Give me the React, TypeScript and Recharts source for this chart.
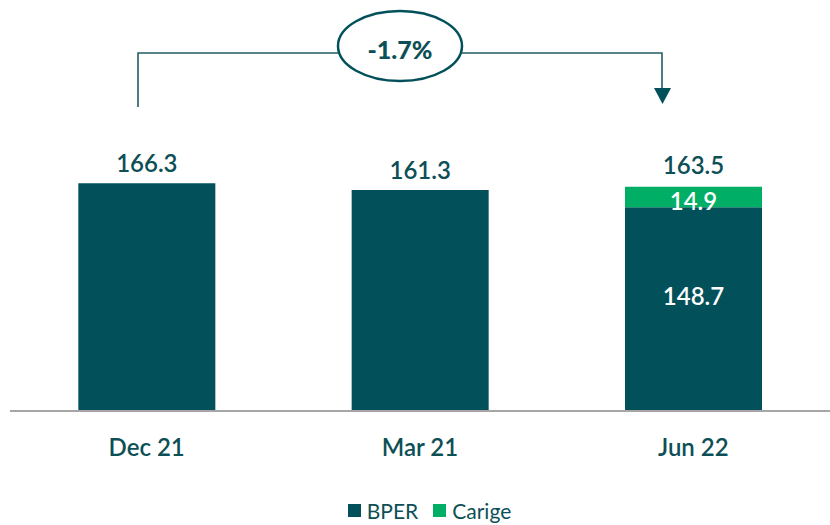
import React from 'react';
import { BarChart, Bar, XAxis, YAxis, Legend, LabelList } from 'recharts';

const categories = ['Dec 21', 'Mar 21', 'Jun 22'];
const bperValues = [166.3, 161.3, 148.7];
const carigeValues = [null, null, 14.9];
const totalLabels = ['166.3', '161.3', '163.5'];
const changeLabel = '-1.7%';

const TEAL = '#02505A';
const GREEN = '#00AE65';
const TEXT = '#0D4F56';
const FONT = 'Lato, "Open Sans", sans-serif';

const data = categories.map((name, i) => ({
  name,
  bper: bperValues[i],
  carige: carigeValues[i],
  total: totalLabels[i],
}));

const W = 830;
const H = 525;

function AxisTick(props: any) {
  const { x, y, payload } = props;
  return (
    <text x={x} y={y + 37} textAnchor="middle" fill={TEXT} fontSize={24} fontWeight={600} fontFamily={FONT}>
      {payload.value}
    </text>
  );
}

// BPER label: above the bar when it stands alone, inside (white) when Carige sits on top
function BperLabel(props: any) {
  const { x, y, width, height, index, value } = props;
  const stacked = data[index] && data[index].carige != null;
  if (stacked) {
    return (
      <text x={x + width / 2} y={y + height * 0.48} textAnchor="middle" fill="#fff" fontSize={24} fontWeight={600} fontFamily={FONT}>
        {Number(value).toFixed(1)}
      </text>
    );
  }
  return (
    <text x={x + width / 2} y={y - 11} textAnchor="middle" fill={TEXT} fontSize={24} fontWeight={600} fontFamily={FONT}>
      {data[index] ? data[index].total : value}
    </text>
  );
}

function CarigeLabel(props: any) {
  const { x, y, width, height, value } = props;
  if (value == null) return null;
  const row = data.find((d) => d.carige === value);
  return (
    <g>
      <text x={x + width / 2} y={y + height + 3} textAnchor="middle" fill="#fff" fontSize={24} fontWeight={600} fontFamily={FONT}>
        {Number(value).toFixed(1)}
      </text>
      <text x={x + width / 2} y={y - 13} textAnchor="middle" fill={TEXT} fontSize={24} fontWeight={600} fontFamily={FONT}>
        {row ? row.total : ''}
      </text>
    </g>
  );
}

function LegendContent() {
  const items = [
    { label: 'BPER', color: TEAL },
    { label: 'Carige', color: GREEN },
  ];
  return (
    <div style={{ display: 'flex', justifyContent: 'center', alignItems: 'center', height: 30, paddingTop: 7, paddingLeft: 34, fontFamily: FONT, fontSize: 21, color: TEXT }}>
      {items.map((it) => (
        <span key={it.label} style={{ display: 'flex', alignItems: 'center', marginRight: 15 }}>
          <span style={{ width: 13, height: 13, background: it.color, marginRight: 6, display: 'inline-block' }} />
          {it.label}
        </span>
      ))}
    </div>
  );
}

// the "-1.7%" bracket from Dec 21 to Jun 22
function ChangeArrow() {
  const stroke = '#1E5E63';
  return (
    <svg width={W} height={130} style={{ position: 'absolute', left: 0, top: 0, pointerEvents: 'none' }}>
      <polyline points="138,107 138,53 338,53" fill="none" stroke={stroke} strokeWidth={1.6} />
      <polyline points="462,53 662,53 662,89" fill="none" stroke={stroke} strokeWidth={1.6} />
      <polygon points="654,88 671,88 662.5,104" fill={TEAL} />
      <ellipse cx={400} cy={46} rx={62} ry={35} fill="#fff" stroke={TEAL} strokeWidth={2.5} />
      <text x={400} y={59} textAnchor="middle" fill={TEXT} fontSize={25} fontWeight={900} fontFamily={FONT}>
        {changeLabel}
      </text>
    </svg>
  );
}

export default function App() {
  return (
    <div style={{ position: 'absolute', left: 0, top: 0, width: W, height: H, background: '#fff' }}>
      <BarChart
        width={W}
        height={H}
        data={data}
        margin={{ top: 137, right: 0, left: 10, bottom: 0 }}
        barCategoryGap="25%"
      >
        <XAxis
          dataKey="name"
          axisLine={{ stroke: '#A6A6A6', strokeWidth: 2 }}
          tickLine={false}
          tick={<AxisTick />}
          height={77}
          interval={0}
        />
        <YAxis hide domain={[0, 200]} />
        <Legend verticalAlign="bottom" content={<LegendContent />} />
        <Bar dataKey="bper" name="BPER" stackId="a" fill={TEAL} isAnimationActive={false}>
          <LabelList dataKey="bper" content={<BperLabel />} />
        </Bar>
        <Bar dataKey="carige" name="Carige" stackId="a" fill={GREEN} isAnimationActive={false}>
          <LabelList dataKey="carige" content={<CarigeLabel />} />
        </Bar>
      </BarChart>
      <ChangeArrow />
    </div>
  );
}
